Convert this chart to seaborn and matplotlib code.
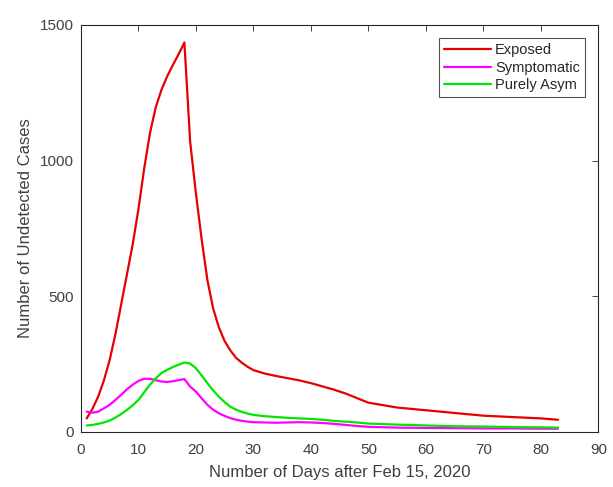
import numpy as np
import pandas as pd
import seaborn as sns
import matplotlib.pyplot as plt

days = list(range(1, 31)) + [32, 34, 36, 38, 40, 42, 44, 46, 48, 50, 55, 60, 65, 70, 75, 80, 83]

exposed = [50, 85, 130, 190, 265, 360, 470, 580, 690, 820,
           970, 1100, 1195, 1260, 1310, 1352, 1392, 1435, 1070, 880,
           710, 560, 455, 385, 335, 300, 273, 255, 240, 228,
           215, 206, 198, 190, 180, 168, 156, 142, 125, 108,
           90, 80, 70, 60, 55, 50, 45]

symptomatic = [75, 71, 75, 87, 100, 118, 137, 157, 174, 188,
               196, 196, 191, 186, 184, 187, 191, 195, 167, 149,
               124, 100, 82, 69, 59, 51, 45, 41, 38, 36,
               35, 34, 35, 36, 35, 33, 30, 26, 22, 19,
               16, 15, 14, 13, 13, 12, 12]

purely_asym = [24, 26, 30, 35, 42, 53, 66, 81, 98, 118,
               146, 174, 197, 217, 229, 239, 248, 256, 252, 235,
               208, 180, 153, 130, 110, 93, 82, 74, 68, 63,
               58, 55, 52, 50, 48, 45, 41, 38, 35, 31,
               27, 24, 21, 20, 18, 17, 16]

series_names = ["Exposed", "Symptomatic", "Purely Asym"]
colors = ["#e60000", "#ff00ff", "#00e600"]

df = pd.DataFrame({
    "day": days * 3,
    "cases": exposed + symptomatic + purely_asym,
    "group": [n for n in series_names for _ in days],
})

sns.set_style("white")
plt.rcParams["font.family"] = ["Liberation Sans", "DejaVu Sans"]

fig = plt.figure(figsize=(6.13, 4.87), dpi=100)
ax = fig.add_axes([0.132, 0.113, 0.844, 0.836])

sns.lineplot(data=df, x="day", y="cases", hue="group", hue_order=series_names,
             palette=colors, linewidth=1.6, ax=ax)

ax.set_xlim(0, 90)
ax.set_ylim(0, 1500)
ax.set_xticks(np.arange(0, 91, 10))
ax.set_yticks([0, 500, 1000, 1500])

edge = "#262626"
text_col = "#404040"
for s in ax.spines.values():
    s.set_visible(True)
    s.set_color(edge)
    s.set_linewidth(0.8)
ax.tick_params(direction="in", length=4, width=0.6, colors=edge, labelcolor=text_col,
               labelsize=11, top=True, right=True, labeltop=False, labelright=False)
ax.tick_params(axis="x", pad=8)
ax.tick_params(axis="y", pad=5)
ax.set_xlabel("Number of Days after Feb 15, 2020", fontsize=12, color=text_col, labelpad=6)
ax.set_ylabel("Number of Undetected Cases", fontsize=12, color=text_col, labelpad=5)

leg = ax.legend(loc="upper right", bbox_to_anchor=(0.975, 0.968), fontsize=10.5,
                frameon=True, fancybox=False, handlelength=3.2,
                borderpad=0.35, labelspacing=0.25, handletextpad=0.3,
                borderaxespad=0)
leg.get_frame().set_edgecolor(edge)
leg.get_frame().set_linewidth(0.8)
for t in leg.get_texts():
    t.set_color(edge)

fig.savefig("out.png", dpi=100)
